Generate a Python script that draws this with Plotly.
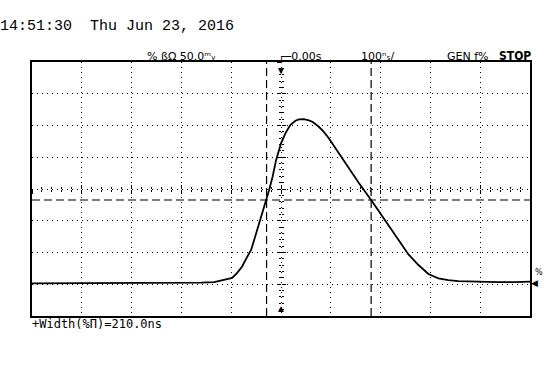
import plotly.graph_objects as go

# ---- data ----
time_ns = [-500, -450, -400, -350, -300, -250, -200, -160, -134, -124, -112, -98, -88, -78, -68,
           -60, -50, -40, -34, -29, -24, -17, -10, 0, 9, 19, 29, 36, 46, 56, 63, 76, 86, 96, 116,
           136, 156, 181, 202, 222, 240, 256, 276, 296, 316, 336, 356, 396, 436, 470, 500]
volt_mV = [-148.5, -148.5, -148, -148.5, -148, -148, -147.5, -147.5, -146.5, -145, -143, -140, -132,
           -122, -107, -96, -70, -44, -26, -17, -2, 19, 45, 72, 88, 101, 107.5, 109.5, 110, 108,
           106, 98, 90, 80, 56.5, 33, 10, -17.3, -41, -64, -85, -103, -119.7, -133.9,
           -140.6, -143.5, -145, -146, -146.5, -146.5, -146]
cursor_t_ns = [-29, 181]
cursor_v_mV = -17.3
time_range = [-500, 500]
volt_range = [-200, 200]
time_div = 100
volt_div = 50

timestamp = "14:51:30  Thu Jun 23, 2016"
ch_label = "% ßΩ 50.0ᵐᵥ"
trig_label = "┌─0.00s"
tb_label = "100ⁿₛ/"
gen_label = "GEN ƒ%"
stop_label = "<b>STOP</b>"
meas_label = "+Width(%Π)=210.0ns"

W, H = 544, 384
L, R, T, B = 32, 12, 62, 68
PW, PH = W - L - R, H - T - B


def px(x):
    return (x - L) / PW


def py(y):
    return (H - B - y) / PH


fig = go.Figure()
fig.add_trace(go.Scatter(x=time_ns, y=volt_mV, mode="lines",
                         line=dict(color="black", width=1.8),
                         showlegend=False, hoverinfo="skip"))
# placeholder traces so the centre tick axes get drawn
for xa, ya in [("x2", "y"), ("x3", "y"), ("x", "y2"), ("x", "y3")]:
    fig.add_trace(go.Scatter(x=[None], y=[None], xaxis=xa, yaxis=ya, showlegend=False,
                             hoverinfo="skip"))

# cursors
for c in cursor_t_ns:
    fig.add_shape(type="line", xref="x", yref="paper", x0=c, x1=c, y0=0, y1=1,
                  line=dict(color="black", width=1.2, dash="8px,4px"))
fig.add_shape(type="line", xref="paper", yref="y", x0=0, x1=1, y0=cursor_v_mV, y1=cursor_v_mV,
              line=dict(color="black", width=1.2, dash="8px,4px"))

grid = dict(showgrid=True, gridcolor="black", griddash="1px,4px", gridwidth=1,
            showticklabels=False, ticks="", zeroline=False, showline=True,
            linecolor="black", linewidth=2, mirror=True, fixedrange=True)
fig.update_layout(
    width=W, height=H, margin=dict(l=L, r=R, t=T, b=B),
    paper_bgcolor="white", plot_bgcolor="white",
    xaxis=dict(range=time_range, dtick=time_div, tick0=0, **grid),
    yaxis=dict(range=volt_range, dtick=volt_div, tick0=0, **grid),
)
for name, side in [("xaxis2", "outside"), ("xaxis3", "inside")]:
    fig.update_layout(**{name: dict(overlaying="x", anchor="free", position=0.5, range=time_range,
                                    showgrid=False, zeroline=False, showline=False,
                                    showticklabels=False, ticks=side, ticklen=4, tickwidth=1,
                                    tickcolor="black", dtick=time_div, tick0=0, fixedrange=True,
                                    minor=dict(ticks=side, ticklen=2, dtick=time_div / 5, tick0=0,
                                               tickcolor="black", showgrid=False))})
for name, side in [("yaxis2", "outside"), ("yaxis3", "inside")]:
    fig.update_layout(**{name: dict(overlaying="y", anchor="free", position=0.5, range=volt_range,
                                    showgrid=False, zeroline=False, showline=False,
                                    showticklabels=False, ticks=side, ticklen=4, tickwidth=1,
                                    tickcolor="black", dtick=volt_div, tick0=0, fixedrange=True,
                                    minor=dict(ticks=side, ticklen=2, dtick=volt_div / 5, tick0=0,
                                               tickcolor="black", showgrid=False))})


def label(text, x, y, size, family, xanchor="left"):
    fig.add_annotation(text=text, x=px(x), y=py(y), xref="paper", yref="paper",
                       xanchor=xanchor, yanchor="middle", showarrow=False,
                       font=dict(size=size, family=family, color="black"), borderpad=0)


label(timestamp, -1, 26, 15, "Liberation Mono")
label(ch_label, 146, 56, 11, "DejaVu Sans")
label(trig_label, 278, 56, 11, "DejaVu Sans")
label(tb_label, 361, 56, 11, "DejaVu Sans")
label(gen_label, 448, 56, 11, "DejaVu Sans")
label(stop_label, 534, 56, 12, "Liberation Sans Narrow, DejaVu Sans Condensed", xanchor="right")
label(meas_label, 31, 324, 12, "DejaVu Sans Mono")
label("◀", 532, 283, 9, "DejaVu Sans")
label("%", 536, 272, 8, "DejaVu Sans")

# trigger position markers
fig.add_annotation(text="▼", x=0, y=1, xref="x", yref="paper", yanchor="top", showarrow=False,
                   font=dict(size=10, color="black"), borderpad=0)
fig.add_annotation(text="▲", x=0, y=0, xref="x", yref="paper", yanchor="bottom", showarrow=False,
                   font=dict(size=10, color="black"), borderpad=0)

fig.write_html("out.html", post_script="document.body.style.margin='0';",
               config={"displayModeBar": False})
